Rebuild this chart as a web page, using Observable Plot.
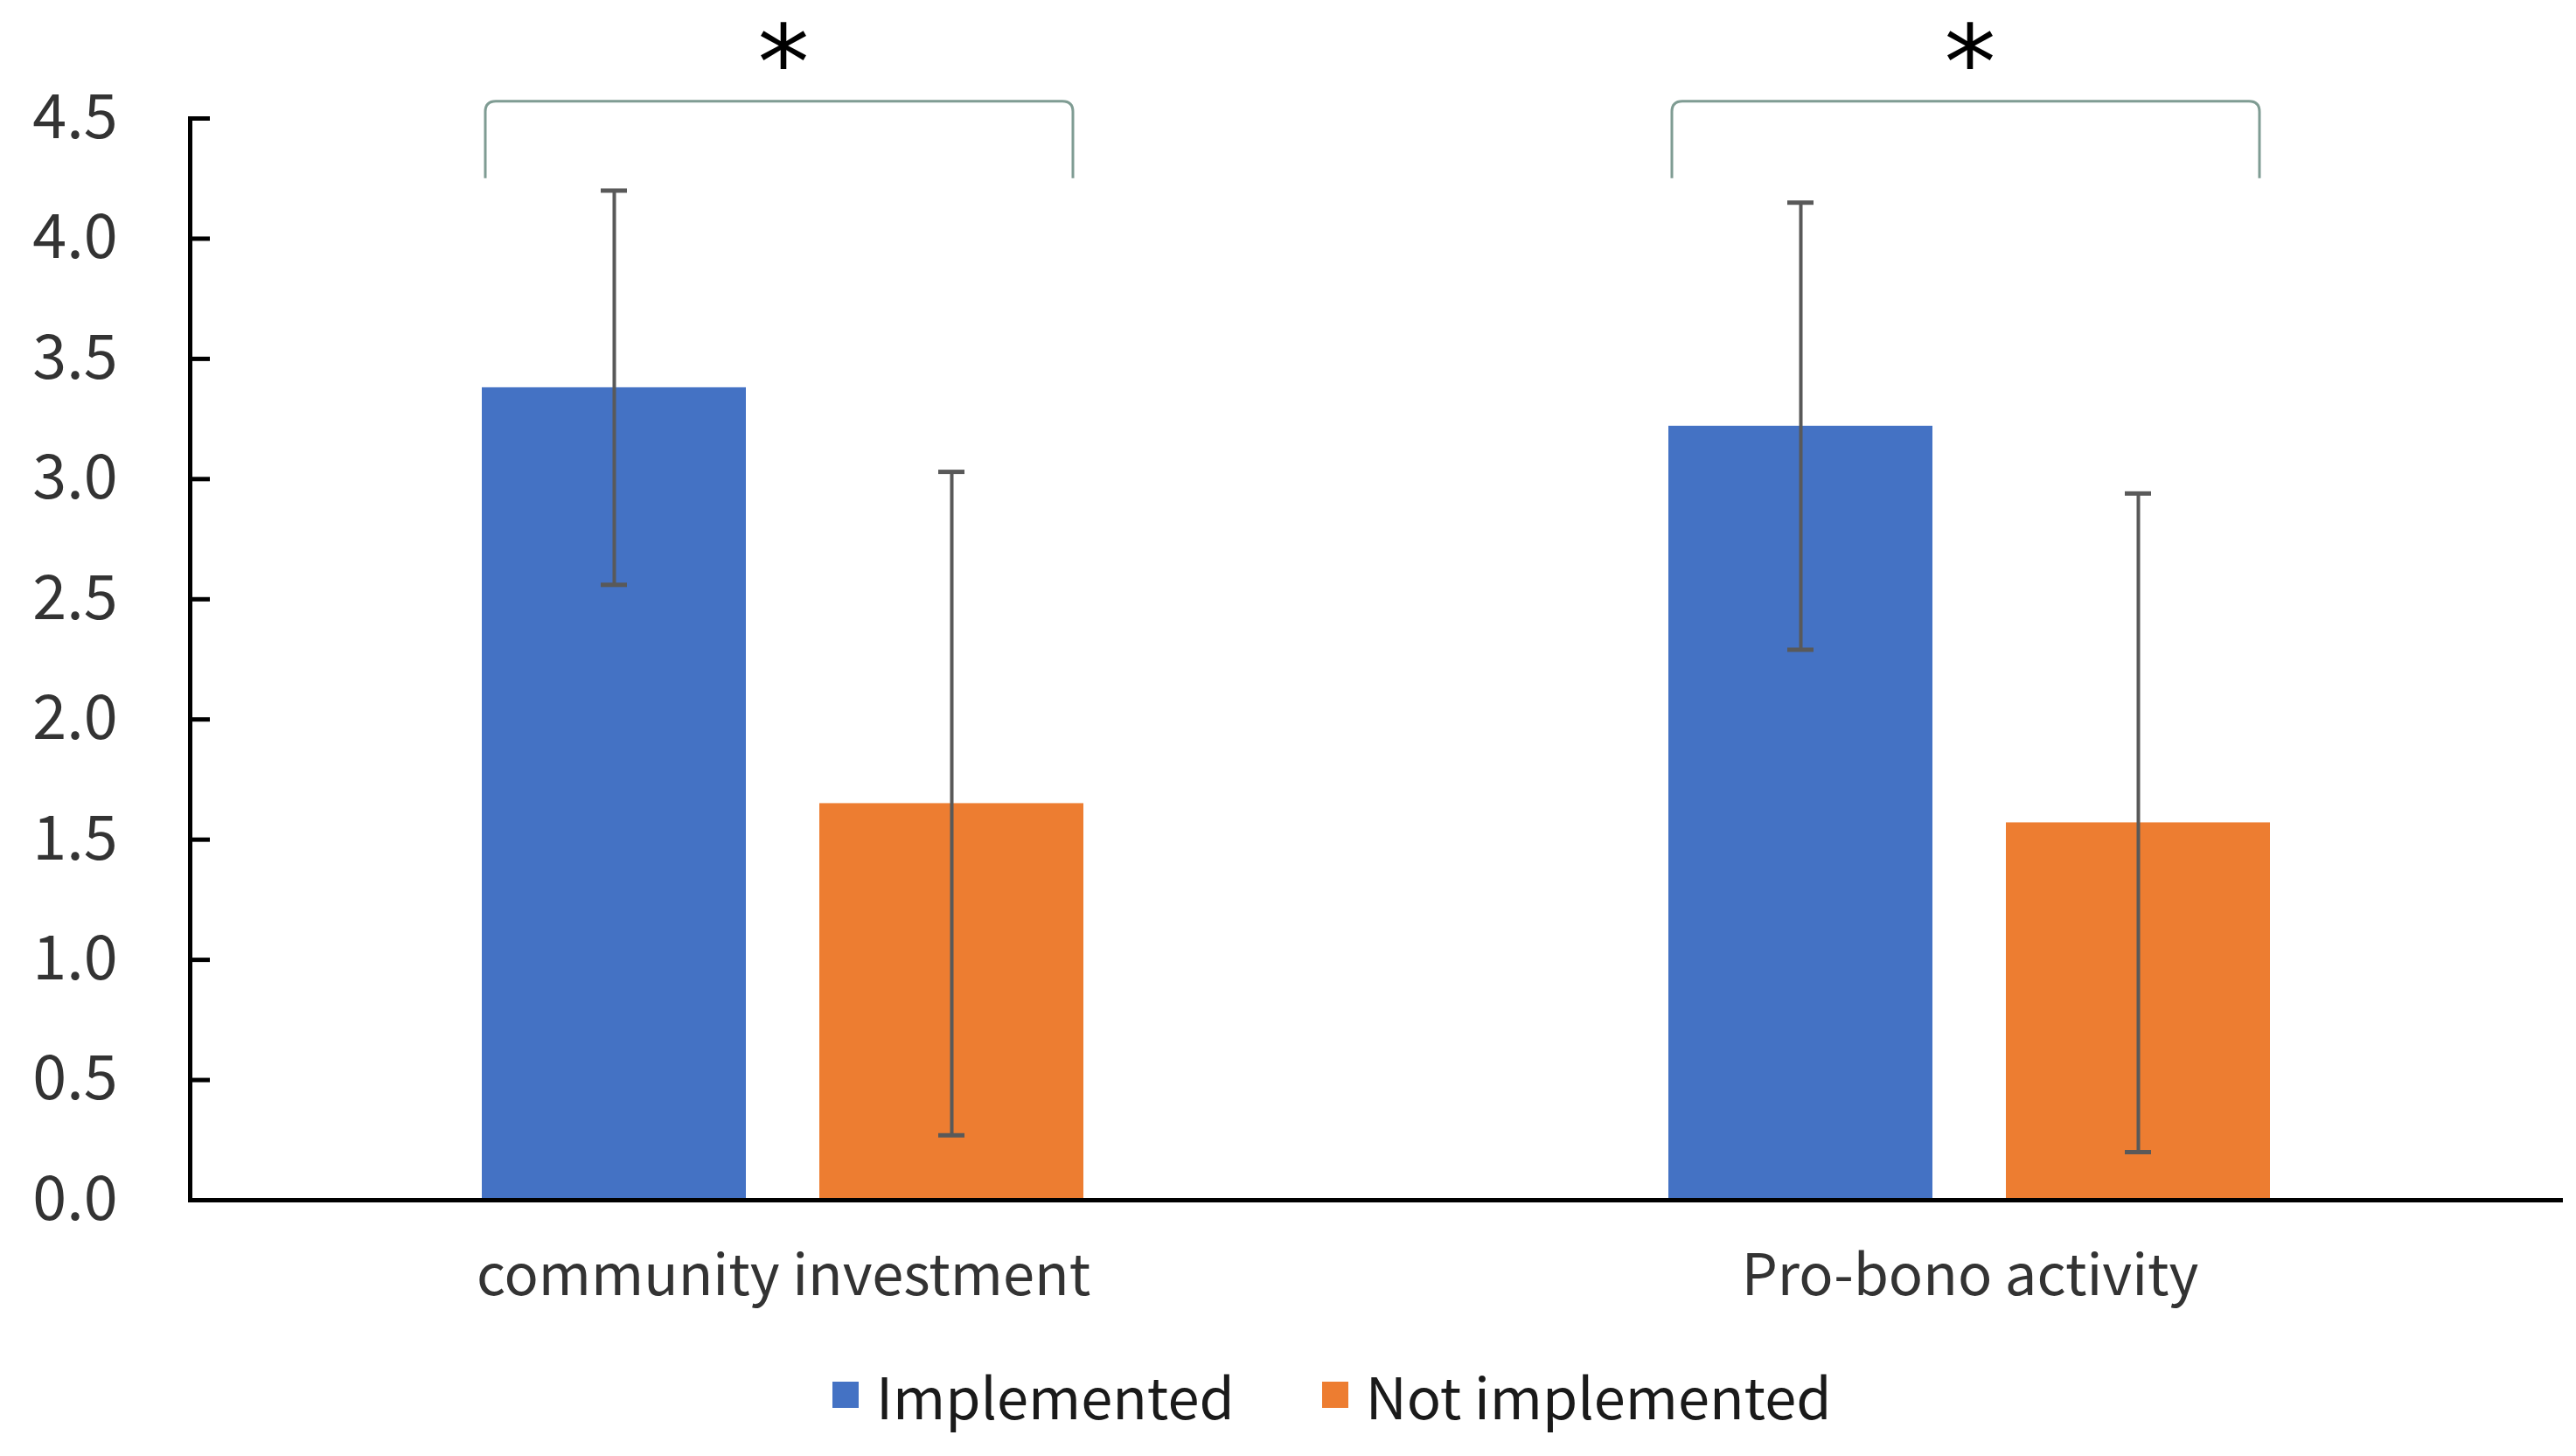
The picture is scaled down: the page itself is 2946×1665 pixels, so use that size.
<!DOCTYPE html>
<html>
<head>
<meta charset="utf-8">
<script src="https://cdn.jsdelivr.net/npm/d3@7"></script>
<script src="https://cdn.jsdelivr.net/npm/@observablehq/plot@0.6"></script>
<style>
  html, body { margin: 0; padding: 0; background: #fff; }
  #chart { width: 2946px; }
  .legend { display: flex; align-items: center; height: 110px; margin-top: 0px; padding-left: 952px;
            font-family: "Noto Sans CJK JP", "Noto Sans", sans-serif; font-size: 65px; color: #1a1a1a; }
  .item { display: flex; align-items: center; margin-right: 100px; }
  .sw { width: 30px; height: 30px; margin-right: 20px; }
</style>
</head>
<body>
<div id="chart"></div>
<script>
// ---- data ----
const groups = ["community investment", "Pro-bono activity"];
const series = ["Implemented", "Not implemented"];
const implementedMean = [3.38, 3.22];
const implementedSD = [0.82, 0.93];
const notImplementedMean = [1.65, 1.57];
const notImplementedSD = [1.38, 1.37];
const yTicks = [0, 0.5, 1, 1.5, 2, 2.5, 3, 3.5, 4, 4.5];
const colors = ["#4472C4", "#ED7D31"];
const sigLabels = ["*", "*"];
const bracketTop = [4.57, 4.57];
const bracketLeg = [4.25, 4.25];
const starLevel = [4.82, 4.82];

// ---- tables ----
const rows = groups.flatMap((g, i) => [
  {group: g, series: series[0], mean: implementedMean[i], sd: implementedSD[i]},
  {group: g, series: series[1], mean: notImplementedMean[i], sd: notImplementedSD[i]}
]);
const sigRows = groups.map((g, i) => ({group: g, label: sigLabels[i], top: bracketTop[i], leg: bracketLeg[i], star: starLevel[i]}));

const FONT = '"Noto Sans CJK JP", "Noto Sans", sans-serif';
const W = 2946, H = 1540;

function bracketRender(index, scales, values, dimensions, context) {
  const x = scales.x, y = scales.y;
  const bw = typeof x.bandwidth === "function" ? x.bandwidth() : x.bandwidth;
  const g = d3.create("svg:g");
  for (const i of index) {
    const d = sigRows[i];
    const x0 = x(series[0]) + 4;
    const x1 = x(series[series.length - 1]) + bw - 12;
    const yt = y(d.top), yl = y(d.leg), r = 12;
    g.append("path")
      .attr("d", `M${x0},${yl}V${yt + r}Q${x0},${yt} ${x0 + r},${yt}H${x1 - r}Q${x1},${yt} ${x1},${yt + r}V${yl}`)
      .attr("fill", "none")
      .attr("stroke", "#7f9c93")
      .attr("stroke-width", 3);
  }
  return g.node();
}

const chart = Plot.plot({
  width: W,
  height: H,
  marginLeft: 216,
  marginRight: 15,
  marginTop: 135,
  marginBottom: H - 1372,
  style: {fontFamily: FONT, fontSize: "65px", color: "#333", background: "white", overflow: "visible"},
  fx: {domain: groups, padding: 0, axis: "bottom", label: null, tickSize: 0, tickPadding: 62},
  x: {domain: series, axis: null, paddingInner: 0.217, paddingOuter: 0.862},
  y: {domain: [0, 4.5]},
  color: {domain: series, range: colors},
  marks: [
    Plot.barY(rows, {fx: "group", x: "series", y: "mean", fill: "series"}),
    Plot.axisY({ticks: yTicks, tickFormat: d3.format(".1f"), tickSize: -23, tickPadding: 106,
                stroke: "#000", strokeWidth: 5, fill: "#333", fontSize: 70, label: null}),
    Plot.frame({anchor: "left", facetAnchor: "left", stroke: "#000", strokeWidth: 5}),
    Plot.ruleY([0], {stroke: "#000", strokeWidth: 5}),
    Plot.ruleX(rows, {fx: "group", x: "series", y1: d => d.mean - d.sd, y2: d => d.mean + d.sd,
                      stroke: "#595959", strokeWidth: 4}),
    Plot.tickY(rows, {fx: "group", x: "series", y: d => d.mean + d.sd, stroke: "#595959", strokeWidth: 5,
                      insetLeft: 136, insetRight: 136}),
    Plot.tickY(rows, {fx: "group", x: "series", y: d => d.mean - d.sd, stroke: "#595959", strokeWidth: 5,
                      insetLeft: 136, insetRight: 136}),
    Plot.ruleY(sigRows, {fx: "group", y: "top", render: bracketRender}),
    Plot.text(sigRows, {fx: "group", y: "star", text: "label", fontSize: 118, fontFamily: "DejaVu Sans",
                        fill: "#000", lineAnchor: "middle", dy: 28})
  ]
});

document.getElementById("chart").appendChild(chart);

// legend
const legend = d3.select("body").append("div").attr("class", "legend");
series.forEach((s, i) => {
  const it = legend.append("div").attr("class", "item");
  it.append("div").attr("class", "sw").style("background", colors[i]);
  it.append("span").text(s);
});
</script>
</body>
</html>
